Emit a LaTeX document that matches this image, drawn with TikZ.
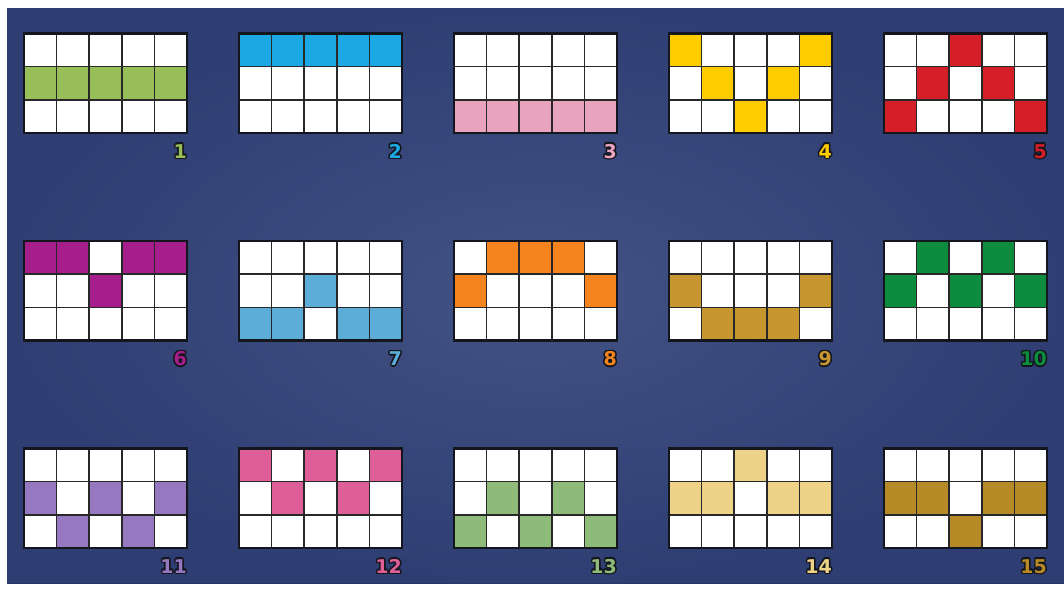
\documentclass[tikz,border=0pt]{standalone}
\usepackage{fontspec}
\setmainfont{DejaVu Sans}
\usepackage{contour}
\contourlength{1.5pt}
\contournumber{12}
\definecolor{bg}{RGB}{54,70,124}
\definecolor{bgedge}{RGB}{40,54,104}
\definecolor{c1}{RGB}{152,190,90}
\definecolor{c2}{RGB}{28,168,226}
\definecolor{c3}{RGB}{232,164,190}
\definecolor{c4}{RGB}{255,204,0}
\definecolor{c5}{RGB}{212,30,40}
\definecolor{c6}{RGB}{166,30,140}
\definecolor{c7}{RGB}{92,174,216}
\definecolor{c8}{RGB}{246,132,30}
\definecolor{c9}{RGB}{200,150,46}
\definecolor{c10}{RGB}{12,140,60}
\definecolor{c11}{RGB}{150,120,192}
\definecolor{c12}{RGB}{222,94,152}
\definecolor{c13}{RGB}{142,186,122}
\definecolor{c14}{RGB}{238,210,136}
\definecolor{c15}{RGB}{182,138,38}
\definecolor{gridline}{RGB}{40,40,40}
\definecolor{outl}{RGB}{20,22,30}
\tikzset{
  innerline/.style={draw=gridline, line width=1.6pt},
  outerline/.style={draw=outl, line width=2.6pt},
  numlabel/.style={anchor=east, inner sep=0pt, font=\fontsize{19}{19}\selectfont\bfseries}
}
\begin{document}
\begin{tikzpicture}[x=1pt,y=-1pt]
\useasboundingbox (0,0) rectangle (1064,590);
\fill[white] (0,0) rectangle (1064,590);
\shade[inner color=bg!85!white, outer color=bgedge] (7,8) rectangle (1064,583);
\fill[bg, opacity=0.55] (7,8) rectangle (1064,583);
\foreach \n/\col/\row/\a/\b/\c/\d/\e in {
  1/0/0/1/1/1/1/1, 2/1/0/0/0/0/0/0, 3/2/0/2/2/2/2/2, 4/3/0/0/1/2/1/0, 5/4/0/2/1/0/1/2,
  6/0/1/0/0/1/0/0, 7/1/1/2/2/1/2/2, 8/2/1/1/0/0/0/1, 9/3/1/1/2/2/2/1, 10/4/1/1/0/1/0/1,
  11/0/2/1/2/1/2/1, 12/1/2/0/1/0/1/0, 13/2/2/2/1/2/1/2, 14/3/2/1/1/0/1/1, 15/4/2/1/1/2/1/1} {
  \pgfmathsetmacro\gx{24+215*\col}
  \pgfmathsetmacro\gy{33.5+207.5*\row}
  \fill[white] (\gx,\gy) rectangle ++(163,99.5);
  \foreach \k/\r in {0/\a,1/\b,2/\c,3/\d,4/\e}
    \fill[c\n] (\gx+\k*32.6,\gy+\r*33.17) rectangle ++(32.6,33.17);
  \foreach \k in {1,2,3,4}
    \draw[innerline] (\gx+\k*32.6,\gy) -- ++(0,99.5);
  \foreach \r in {1,2}
    \draw[innerline] (\gx,\gy+\r*33.17) -- ++(163,0);
  \draw[outerline] (\gx,\gy) rectangle ++(163,99.5);
  \node[numlabel] (lbl\n) at (\gx+163,\gy+118.5) {\contour{outl}{\textcolor{c\n}{\n}}};
}
\end{tikzpicture}
\end{document}
